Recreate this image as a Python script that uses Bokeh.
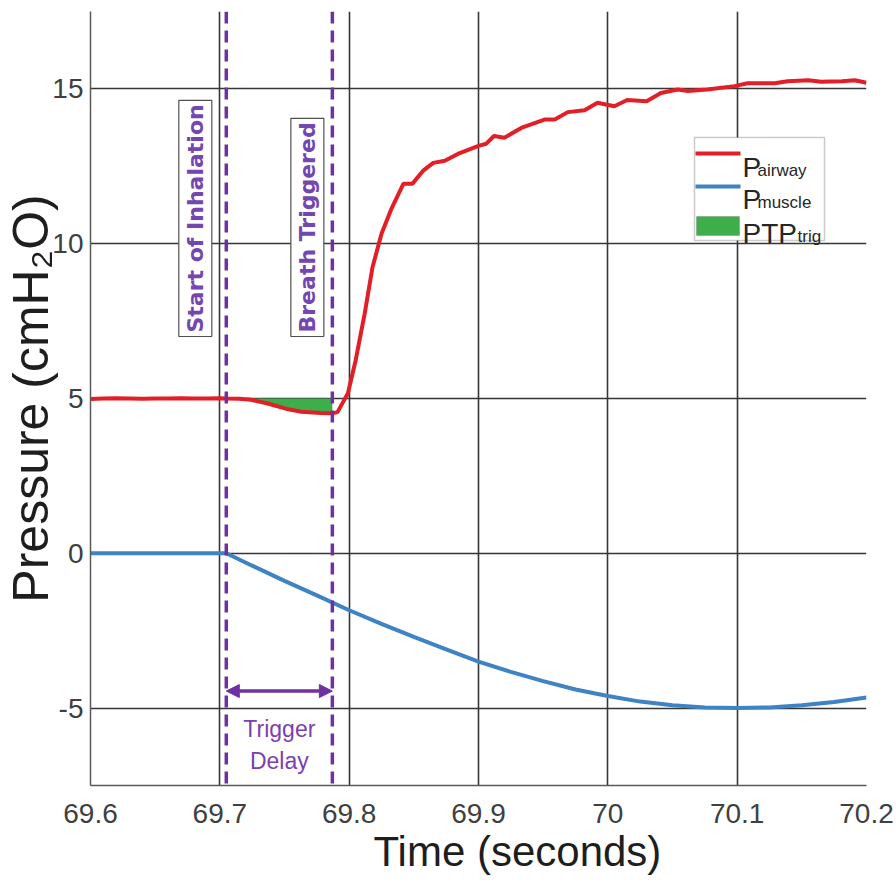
import numpy as np
from bokeh.plotting import figure
from bokeh.models import (Range1d, Label, BoxAnnotation, Arrow, NormalHead,
                          Span, Title)
from bokeh.embed import file_html
from bokeh.resources import INLINE

# ---------------- data ----------------
t_airway = [69.600, 69.610, 69.620, 69.630, 69.640, 69.650, 69.660, 69.670,
            69.680, 69.690, 69.700, 69.705, 69.715, 69.724, 69.737, 69.753,
            69.763, 69.778, 69.787, 69.791, 69.796, 69.799, 69.805, 69.812,
            69.818, 69.825, 69.833, 69.842, 69.849, 69.857, 69.865, 69.874,
            69.884, 69.900, 69.906, 69.912, 69.920, 69.933, 69.951, 69.959,
            69.969, 69.982, 69.992, 70.005, 70.015, 70.030, 70.041, 70.054,
            70.062, 70.077, 70.098, 70.108, 70.129, 70.139, 70.155, 70.165,
            70.181, 70.191, 70.200]
p_airway = [4.98, 5.00, 5.01, 5.00, 4.99, 5.00, 5.00, 5.01,
            5.00, 5.00, 5.01, 5.00, 4.99, 4.96, 4.84, 4.65,
            4.57, 4.53, 4.52, 4.56, 4.94, 5.16, 6.23, 7.74,
            9.23, 10.32, 11.16, 11.94, 11.94, 12.35, 12.61, 12.68,
            12.90, 13.16, 13.23, 13.48, 13.42, 13.74, 14.01, 14.01,
            14.25, 14.31, 14.55, 14.44, 14.64, 14.60, 14.87, 14.98,
            14.93, 14.98, 15.09, 15.18, 15.18, 15.25, 15.28, 15.23,
            15.25, 15.28, 15.20]

t_muscle = [69.600, 69.650, 69.705, 69.725, 69.750, 69.775, 69.800, 69.825,
            69.850, 69.875, 69.900, 69.925, 69.950, 69.975, 70.000, 70.025,
            70.050, 70.075, 70.100, 70.125, 70.150, 70.175, 70.200]
p_muscle = [0.00, 0.00, 0.00, -0.40, -0.89, -1.36, -1.84, -2.28,
            -2.70, -3.10, -3.50, -3.83, -4.13, -4.40, -4.61, -4.79,
            -4.91, -4.98, -5.00, -4.98, -4.91, -4.80, -4.66]

t_start = 69.705      # start of inhalation
t_trig = 69.787       # breath triggered
peep = 5.0            # baseline airway pressure
delay_arrow_y = -4.45

x_ticks = [69.6, 69.7, 69.8, 69.9, 70.0, 70.1, 70.2]
x_tick_labels = ["69.6", "69.7", "69.8", "69.9", "70", "70.1", "70.2"]
y_ticks = [-5, 0, 5, 10, 15]
y_tick_labels = ["-5", "0", "5", "10", "15"]

# ---------------- styles ----------------
RED = "#E41E26"
BLUE = "#3E83C3"
GREEN = "#3DAE49"
PURPLE = "#7030A0"
GRID = "#363636"
FONT = "Liberation Sans"

p = figure(width=894, height=880,
           x_range=Range1d(69.6, 70.2), y_range=Range1d(-7.5, 17.5),
           output_backend="svg", toolbar_location=None,
           min_border_left=90, min_border_right=28,
           min_border_top=11, min_border_bottom=95)
p.outline_line_color = None
p.background_fill_color = "white"
p.border_fill_color = "white"

# axes
p.xaxis.ticker = x_ticks
p.yaxis.ticker = y_ticks
p.xaxis.major_label_overrides = {t: s for t, s in zip(x_ticks, x_tick_labels)}
p.yaxis.major_label_overrides = {t: s for t, s in zip(y_ticks, y_tick_labels)}
for ax in (p.xaxis, p.yaxis):
    ax.axis_line_color = "#5a5a5a"
    ax.axis_line_width = 1.5
    ax.major_tick_out = 0
    ax.major_tick_in = 0
    ax.minor_tick_out = 0
    ax.minor_tick_in = 0
    ax.major_label_text_font = FONT
    ax.major_label_text_font_size = "28px"
    ax.major_label_text_color = "#404040"
p.xaxis.major_label_standoff = 18
p.yaxis.major_label_standoff = 7

p.yaxis.axis_label = "Pressure (cmH\u2082O)"
p.yaxis.axis_label_text_font = FONT
p.yaxis.axis_label_text_font_size = "50px"
p.yaxis.axis_label_text_font_style = "normal"
p.yaxis.axis_label_text_color = "#1e1e1e"
p.yaxis.axis_label_standoff = -10

p.add_layout(Title(text="Time (seconds)", align="left", offset=283,
                   text_font=FONT, text_font_size="42px",
                   text_font_style="normal", text_color="#1e1e1e",
                   standoff=0), "below")

# grid
for g in (p.xgrid, p.ygrid):
    g.grid_line_color = GRID
    g.grid_line_width = 1.6
    g.grid_line_alpha = 1.0

# ---------------- data marks ----------------
ta = np.array(t_airway)
pa = np.array(p_airway)
mask = (ta >= t_start - 1e-9) & (ta <= t_trig + 1e-9)
p.varea(x=ta[mask], y1=peep, y2=pa[mask], fill_color=GREEN, fill_alpha=1.0)

p.line(t_muscle, p_muscle, line_color=BLUE, line_width=4)
p.line(t_airway, p_airway, line_color=RED, line_width=4)

# event lines
for t in (t_start, t_trig):
    p.add_layout(Span(location=t, dimension="height", line_color=PURPLE,
                      line_width=3.5, line_dash="12 7"))

# vertical event labels
for t, txt, xo in ((t_start, "Start of Inhalation", -31),
                   (t_trig, "Breath Triggered", -25)):
    p.add_layout(Label(x=t, y=449, x_units="data", y_units="screen",
                       x_offset=xo, text=txt, angle=np.pi / 2,
                       text_align="left", text_baseline="middle",
                       text_font="DejaVu Sans", text_font_size="22px",
                       text_font_style="bold", text_color="#7446B0",
                       background_fill_color="white",
                       border_line_color="#505050", border_line_width=1.2,
                       padding=4))

# trigger delay arrow + label
p.add_layout(Arrow(x_start=t_start, y_start=delay_arrow_y,
                   x_end=t_trig, y_end=delay_arrow_y,
                   line_color=PURPLE, line_width=3.5,
                   start=NormalHead(size=13, fill_color=PURPLE, line_color=PURPLE),
                   end=NormalHead(size=13, fill_color=PURPLE, line_color=PURPLE)))
mid = (t_start + t_trig) / 2
for txt, ys in (("Trigger", 57), ("Delay", 25)):
    p.add_layout(Label(x=mid, y=ys, x_units="data", y_units="screen",
                       text=txt, text_align="center", text_baseline="middle",
                       text_font=FONT, text_font_size="23px",
                       text_color="#7A3FB0"))

# ---------------- manual legend (screen units, relative to frame) ----------------
def sbox(l, r, b, t, **kw):
    return BoxAnnotation(left=l, right=r, bottom=b, top=t,
                         left_units="screen", right_units="screen",
                         bottom_units="screen", top_units="screen", **kw)

p.add_layout(sbox(604, 734, 545, 648, fill_color="white", fill_alpha=1.0,
                  line_color="#505050", line_width=1.5))
p.add_layout(sbox(605, 650, 630, 634, fill_color=RED, fill_alpha=1.0,
                  line_color=None))
p.add_layout(sbox(605, 650, 597, 601, fill_color=BLUE, fill_alpha=1.0,
                  line_color=None))
p.add_layout(sbox(606, 649, 550, 569, fill_color=GREEN, fill_alpha=1.0,
                  line_color="#6a6a6a", line_width=1))

legend_entries = [("P", "airway", 618, 615, 667),
                  ("P", "muscle", 586, 583, 667),
                  ("PTP", "trig", 552, 549, 707)]
for main, sub, yb, ysub, xsub in legend_entries:
    p.add_layout(Label(x=652, y=yb, x_units="screen", y_units="screen",
                       text=main, text_align="left", text_baseline="alphabetic",
                       text_font=FONT, text_font_size="28px",
                       text_color="#262626"))
    p.add_layout(Label(x=xsub, y=ysub, x_units="screen", y_units="screen",
                       text=sub, text_align="left", text_baseline="alphabetic",
                       text_font=FONT, text_font_size="17px",
                       text_color="#262626"))

open("out.html", "w").write(file_html(p, INLINE))
